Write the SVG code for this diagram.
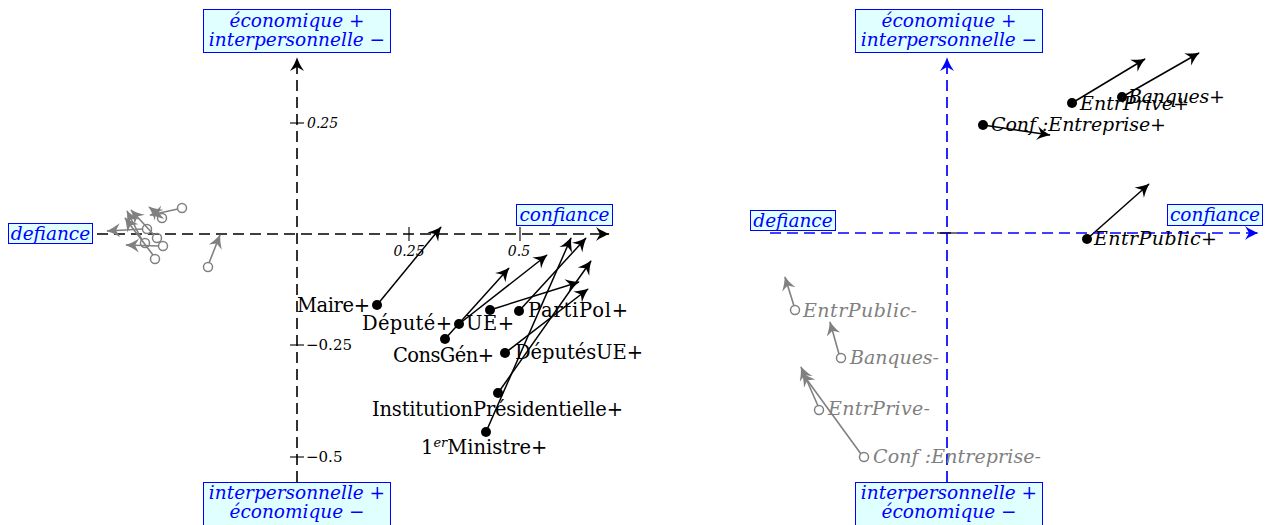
<svg xmlns="http://www.w3.org/2000/svg" width="1268" height="525" viewBox="0 0 1268 525">
<style>
.ax{fill:none;stroke:#000;stroke-width:1.6;stroke-dasharray:11 6}
.axb{fill:none;stroke:#0000ff;stroke-width:1.7;stroke-dasharray:11 6}
.tk{stroke:#000;stroke-width:1.1}
.bx{fill:#e0ffff;stroke:#0000ff;stroke-width:1}
.bt{font-family:"DejaVu Serif","Liberation Serif",serif;font-style:italic;font-size:18.5px;fill:#0000ff;text-anchor:middle}
.lb{font-family:"DejaVu Serif","Liberation Serif",serif;font-size:19.5px;fill:#000}
.li{font-family:"DejaVu Serif","Liberation Serif",serif;font-style:italic;font-size:19px;fill:#000}
.lg{font-family:"DejaVu Serif","Liberation Serif",serif;font-style:italic;font-size:19px;fill:#808080}
.tl{font-family:"DejaVu Serif","Liberation Serif",serif;font-style:italic;font-size:14px;fill:#000}
.tu{font-family:"DejaVu Serif","Liberation Serif",serif;font-size:15px;fill:#000}
.ab{fill:none;stroke:#000;stroke-width:1.5;marker-end:url(#mk)}
.ag{fill:none;stroke:#808080;stroke-width:1.6;marker-end:url(#mg)}
.dot{fill:#000}
.oc{fill:none;stroke:#808080;stroke-width:1.5}
</style>
<defs>
<marker id="mk" viewBox="-15 -8 16 16" refX="0" refY="0" markerWidth="16" markerHeight="16" orient="auto" markerUnits="userSpaceOnUse"><path d="M0.8,0 C-3,-1.2 -8,-3.5 -13,-7 L-9,0 L-13,7 C-8,3.5 -3,1.2 0.8,0Z" fill="#000"/></marker>
<marker id="mg" viewBox="-15 -8 16 16" refX="0" refY="0" markerWidth="16" markerHeight="16" orient="auto" markerUnits="userSpaceOnUse"><path d="M0.8,0 C-3,-1.2 -8,-3.5 -13,-7 L-9,0 L-13,7 C-8,3.5 -3,1.2 0.8,0Z" fill="#808080"/></marker>
<marker id="mb" viewBox="-15 -8 16 16" refX="0" refY="0" markerWidth="16" markerHeight="16" orient="auto" markerUnits="userSpaceOnUse"><path d="M0.8,0 C-3,-1.2 -8,-3.5 -13,-7 L-9,0 L-13,7 C-8,3.5 -3,1.2 0.8,0Z" fill="#0000ff"/></marker>
</defs>
<rect width="1268" height="525" fill="#fff"/>

<!-- LEFT PLOT AXES -->
<g id="axes-left">
<line class="ax" x1="297" y1="482" x2="297" y2="58" marker-end="url(#mk)"/>
<line class="ax" x1="97" y1="234" x2="609" y2="234" marker-end="url(#mk)"/>
<line class="tk" x1="290" y1="123" x2="304" y2="123"/>
<line class="tk" x1="290" y1="345" x2="304" y2="345"/>
<line class="tk" x1="290" y1="457" x2="304" y2="457"/>
<line class="tk" x1="409" y1="227" x2="409" y2="241"/>
<line class="tk" x1="520" y1="227" x2="520" y2="241"/>
<text class="tl" x="307" y="128">0.25</text>
<text class="tl" x="409" y="256" text-anchor="middle">0.25</text>
<text class="tl" x="519" y="256" text-anchor="middle">0.5</text>
<text class="tu" x="306" y="350">−0.25</text>
<text class="tu" x="306" y="462">−0.5</text>
</g>

<g id="box-left-top">
<rect class="bx" x="203.5" y="9.5" width="187" height="43"/>
<text class="bt" x="297" y="27">économique +</text>
<text class="bt" x="297" y="46">interpersonnelle −</text>
</g>
<g id="box-left-bottom">
<rect class="bx" x="203.5" y="482.5" width="187" height="43"/>
<text class="bt" x="297" y="499">interpersonnelle +</text>
<text class="bt" x="297" y="518">économique −</text>
</g>
<g id="box-left-defiance">
<rect class="bx" x="8.5" y="223.5" width="84" height="20"/>
<text class="bt" x="50.5" y="240">defiance</text>
</g>
<g id="box-left-confiance">
<rect class="bx" x="516.5" y="204.5" width="96" height="21"/>
<text class="bt" x="564.5" y="221">confiance</text>
</g>

<!-- connectors -->
<g id="connectors">
<line class="ab" x1="377" y1="305" x2="441" y2="227"/>
<line class="ab" x1="445" y1="339" x2="509" y2="268"/>
<line class="ab" x1="459" y1="324" x2="547" y2="255"/>
<line class="ab" x1="490" y1="310" x2="579" y2="282"/>
<line class="ab" x1="519" y1="311" x2="586" y2="238"/>
<line class="ab" x1="505" y1="353" x2="588" y2="289"/>
<line class="ab" x1="498" y1="393" x2="591" y2="261"/>
<line class="ab" x1="486" y1="432" x2="571" y2="238"/>

<line class="ag" x1="178" y1="209" x2="150" y2="215"/>
<line class="ag" x1="159" y1="215" x2="149" y2="207"/>
<line class="ag" x1="143" y1="229" x2="107" y2="231"/>
<line class="ag" x1="154" y1="235" x2="131" y2="210"/>
<line class="ag" x1="142" y1="240" x2="127" y2="211"/>
<line class="ag" x1="159" y1="246" x2="126" y2="245"/>
<line class="ag" x1="153" y1="255" x2="125" y2="218"/>
<line class="ag" x1="209" y1="263" x2="220" y2="235"/>

<line class="ab" x1="983" y1="125" x2="1050" y2="135"/>
<line class="ab" x1="1072" y1="103" x2="1145" y2="59"/>
<line class="ab" x1="1122" y1="97" x2="1199" y2="53"/>
<line class="ab" x1="1087" y1="239" x2="1149" y2="184"/>

<line class="ag" x1="794" y1="306" x2="785" y2="277"/>
<line class="ag" x1="839" y1="354" x2="830" y2="322"/>
<line class="ag" x1="818" y1="406" x2="801" y2="367"/>
<line class="ag" x1="861" y1="454" x2="802" y2="373"/>
</g>

<!-- LEFT NODES -->
<g id="n-maire"><circle class="dot" cx="377" cy="305" r="5"/><text class="lb" x="297" y="312" textLength="73">Maire+</text></g>
<g id="n-depute"><circle class="dot" cx="459" cy="324" r="5"/><text class="lb" x="362" y="330" textLength="90">Député+</text></g>
<g id="n-conggen"><circle class="dot" cx="445" cy="339" r="5"/><text class="lb" x="393" y="362" textLength="101">ConsGén+</text></g>
<g id="n-ue"><circle class="dot" cx="490" cy="310" r="5"/><text class="lb" x="466" y="330" textLength="48">UE+</text></g>
<g id="n-partipol"><circle class="dot" cx="519" cy="311" r="5"/><text class="lb" x="528" y="317" textLength="100">PartiPol+</text></g>
<g id="n-deputesue"><circle class="dot" cx="505" cy="353" r="5"/><text class="lb" x="515" y="359" textLength="128">DéputésUE+</text></g>
<g id="n-instpres"><circle class="dot" cx="498" cy="393" r="5"/><text class="lb" x="372" y="416" textLength="251">InstitutionPrésidentielle+</text></g>
<g id="n-ministre"><circle class="dot" cx="486" cy="432" r="5"/><text class="lb" x="421" y="454">1<tspan dy="-7" font-size="13" font-style="italic">er</tspan><tspan dy="7">Ministre+</tspan></text></g>

<g id="n-gray-left">
<circle class="oc" cx="182" cy="208" r="4.5"/>
<circle class="oc" cx="162" cy="218" r="4.5"/>
<circle class="oc" cx="147" cy="229" r="4.5"/>
<circle class="oc" cx="157" cy="238" r="4.5"/>
<circle class="oc" cx="145" cy="243" r="4.5"/>
<circle class="oc" cx="163" cy="246" r="4.5"/>
<circle class="oc" cx="155" cy="259" r="4.5"/>
<circle class="oc" cx="208" cy="267" r="4.5"/>
</g>

<!-- RIGHT PLOT AXES -->
<g id="axes-right">
<line class="axb" x1="947" y1="482" x2="947" y2="58" marker-end="url(#mb)"/>
<line class="axb" x1="770" y1="233" x2="1258" y2="233" marker-end="url(#mb)"/>
<line class="tk" x1="937" y1="233" x2="957" y2="233"/>
</g>
<g id="box-right-top">
<rect class="bx" x="855.5" y="9.5" width="187" height="43"/>
<text class="bt" x="949" y="27">économique +</text>
<text class="bt" x="949" y="46">interpersonnelle −</text>
</g>
<g id="box-right-bottom">
<rect class="bx" x="855.5" y="482.5" width="187" height="43"/>
<text class="bt" x="949" y="499">interpersonnelle +</text>
<text class="bt" x="949" y="518">économique −</text>
</g>
<g id="box-right-defiance">
<rect class="bx" x="750.5" y="210.5" width="85" height="20"/>
<text class="bt" x="793" y="227">defiance</text>
</g>
<g id="box-right-confiance">
<rect class="bx" x="1167.5" y="204.5" width="95" height="21"/>
<text class="bt" x="1215" y="221">confiance</text>
</g>

<g id="n-conf-plus"><circle class="dot" cx="983" cy="125" r="5"/><text class="li" x="991" y="131" textLength="175">Conf :Entreprise+</text></g>
<g id="n-entrprive-plus"><circle class="dot" cx="1072" cy="103" r="5"/><text class="li" x="1080" y="110" textLength="109">EntrPrive+</text></g>
<g id="n-banques-plus"><circle class="dot" cx="1122" cy="97" r="5"/><text class="li" x="1128" y="103" textLength="97">Banques+</text></g>
<g id="n-entrpublic-plus"><circle class="dot" cx="1087" cy="239" r="5"/><text class="li" x="1094" y="245" textLength="123">EntrPublic+</text></g>

<g id="n-entrpublic-minus"><circle class="oc" cx="795" cy="310" r="4.5"/><text class="lg" x="803" y="317" textLength="114">EntrPublic-</text></g>
<g id="n-banques-minus"><circle class="oc" cx="841" cy="358" r="4.5"/><text class="lg" x="850" y="364" textLength="89">Banques-</text></g>
<g id="n-entrprive-minus"><circle class="oc" cx="819" cy="410" r="4.5"/><text class="lg" x="828" y="415" textLength="102">EntrPrive-</text></g>
<g id="n-conf-minus"><circle class="oc" cx="864" cy="457" r="4.5"/><text class="lg" x="873" y="463" textLength="168">Conf :Entreprise-</text></g>
</svg>
